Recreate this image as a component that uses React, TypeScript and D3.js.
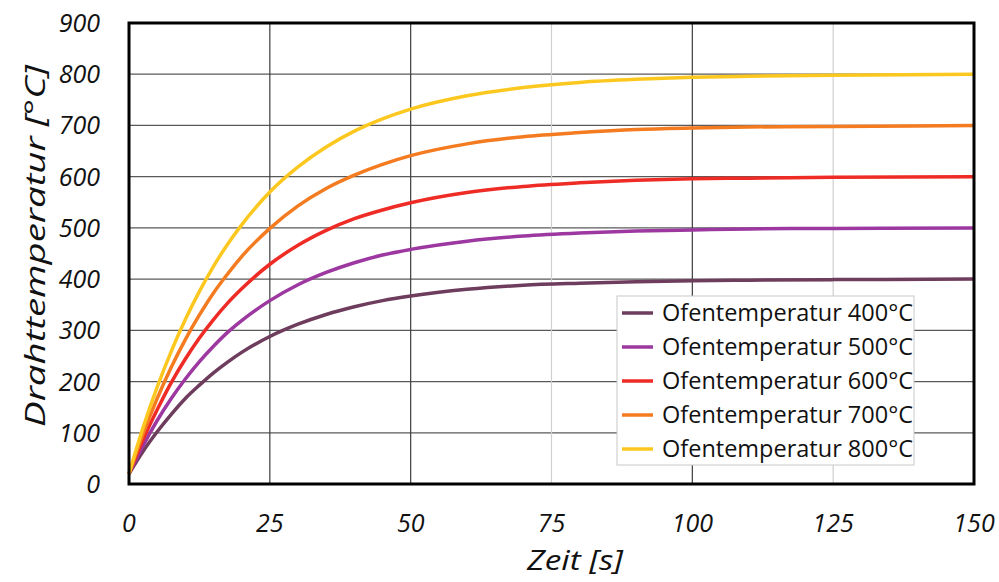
import { scaleLinear, line, curveMonotoneX } from "d3";

const width = 999;
const height = 582;

const margin = { left: 129, right: 25, top: 23, bottom: 98 };
const innerW = width - margin.left - margin.right;
const innerH = height - margin.top - margin.bottom;

// time points in s
const times = [0, 2.5, 5, 7.5, 10, 12.5, 15, 17.5, 20, 25, 30, 35, 40, 45, 50, 60, 70, 80, 90, 100, 110, 125, 150];

// wire temperature per furnace temperature
const temp400 = [20, 64, 102, 136, 167, 193, 217, 238, 257, 288, 312, 331, 346, 358, 367, 380, 388, 392, 395, 397, 398, 399, 400];
const temp500 = [20, 75, 124, 167, 205, 239, 269, 296, 319, 358, 389, 413, 432, 447, 458, 474, 484, 490, 494, 496, 498, 499, 500];
const temp600 = [20, 87, 145, 198, 244, 285, 321, 353, 381, 429, 466, 495, 518, 535, 549, 569, 581, 588, 593, 596, 597, 599, 600];
const temp700 = [20, 98, 167, 228, 282, 330, 373, 410, 444, 499, 543, 577, 603, 624, 641, 664, 678, 686, 692, 695, 697, 698, 700];
const temp800 = [20, 110, 189, 259, 321, 376, 425, 468, 506, 570, 619, 658, 689, 713, 732, 758, 774, 784, 790, 794, 796, 798, 800];

const seriesNames = [
  "Ofentemperatur 400°C",
  "Ofentemperatur 500°C",
  "Ofentemperatur 600°C",
  "Ofentemperatur 700°C",
  "Ofentemperatur 800°C",
];
const seriesValues = [temp400, temp500, temp600, temp700, temp800];
const seriesColors = ["#6e3c5c", "#9c38a0", "#ee2b25", "#f47b20", "#fcc820"];

const xTicks = [0, 25, 50, 75, 100, 125, 150];
const yTicks = [0, 100, 200, 300, 400, 500, 600, 700, 800, 900];
const lightX = [75, 125];

const x = scaleLinear().domain([0, 150]).range([0, innerW]);
const y = scaleLinear().domain([0, 900]).range([innerH, 0]);

const font = "'Open Sans', 'Liberation Sans', sans-serif";

const App = () => {
  const lineGen = line<number>()
    .x((_, i) => x(times[i]))
    .y((d) => y(d))
    .curve(curveMonotoneX);

  const legendX = 617 - margin.left;
  const legendY = 296 - margin.top;

  return (
    <svg
      width={width}
      height={height}
      style={{ position: "absolute", left: 0, top: 0, background: "#fff" }}
      fontFamily={font}
    >
      <g transform={`translate(${margin.left},${margin.top})`}>
        {yTicks.map((t) => (
          <line key={"gy" + t} x1={0} x2={innerW} y1={y(t)} y2={y(t)} stroke="#5a5a5a" strokeWidth={1.2} />
        ))}
        {xTicks.map((t) => (
          <line
            key={"gx" + t}
            x1={x(t)}
            x2={x(t)}
            y1={0}
            y2={innerH}
            stroke={lightX.includes(t) ? "#cfcfcf" : "#3c3c3c"}
            strokeWidth={1.2}
          />
        ))}
        {seriesValues.map((vals, i) => (
          <path key={i} d={lineGen(vals) || ""} fill="none" stroke={seriesColors[i]} strokeWidth={3.5} />
        ))}
        <rect x={0} y={0} width={innerW} height={innerH} fill="none" stroke="#000" strokeWidth={3} />

        {yTicks.map((t) => (
          <text
            key={"ly" + t}
            x={-29}
            y={y(t)}
            dy="0.36em"
            textAnchor="end"
            fontSize={25}
            fontStyle="italic"
            fill="#111"
          >
            {t}
          </text>
        ))}
        {xTicks.map((t) => (
          <text
            key={"lx" + t}
            x={x(t)}
            y={innerH + 48}
            textAnchor="middle"
            fontSize={25}
            fontStyle="italic"
            fill="#111"
          >
            {t}
          </text>
        ))}

        <g transform={`translate(${legendX},${legendY})`}>
          <rect x={0} y={0} width={297} height={169} fill="#fff" stroke="#c8c8c8" strokeWidth={1} />
          {seriesNames.map((name, i) => (
            <g key={name} transform={`translate(0,${17 + i * 34})`}>
              <line x1={5} x2={36} y1={0} y2={0} stroke={seriesColors[i]} strokeWidth={3.5} />
              <text x={45} y={0} dy="0.36em" fontSize={23.5} fill="#111">
                {name}
              </text>
            </g>
          ))}
        </g>
      </g>

      <text
        transform={`translate(45,246) rotate(-90)`}
        textAnchor="middle"
        fontSize={28}
        fontStyle="italic"
        fill="#111"
        textLength={362}
        lengthAdjust="spacingAndGlyphs"
      >
        Drahttemperatur [°C]
      </text>
      <text
        x={575}
        y={570}
        textAnchor="middle"
        fontSize={27}
        fontStyle="italic"
        fill="#111"
        textLength={96}
        lengthAdjust="spacingAndGlyphs"
      >
        Zeit [s]
      </text>
    </svg>
  );
};

export default App;
